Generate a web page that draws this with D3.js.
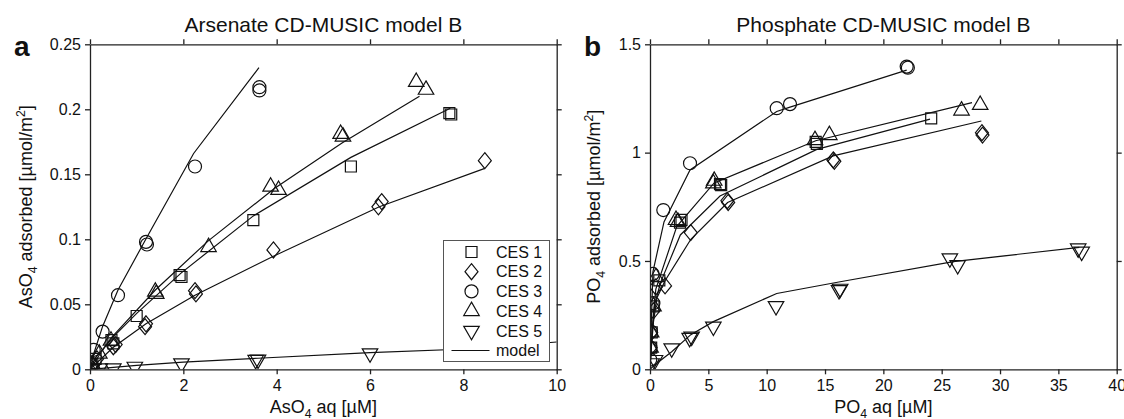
<!DOCTYPE html>
<html lang="en">
<head>
<meta charset="utf-8">
<title>CD-MUSIC model B</title>
<script src="https://d3js.org/d3.v7.min.js"></script>
<style>
body { margin: 0; background: #fff; }
svg { font-family: "Liberation Sans", Arial, sans-serif; }
.axis path, .axis line { stroke: #222; stroke-width: 1.3; }
.axis text { font-size: 16px; fill: #111; font-family: "Liberation Sans", Arial, sans-serif; }
.marker { fill: none; stroke: #111; stroke-width: 1.2; }
.model { fill: none; stroke: #111; stroke-width: 1.2; }
</style>
</head>
<body>
<script>
// ---- panel a : arsenate ----
var asTicksX = [0, 2, 4, 6, 8, 10];
var asTickLabelsX = ["0", "2", "4", "6", "8", "10"];
var asTicksY = [0, 0.05, 0.1, 0.15, 0.2, 0.25];
var asTickLabelsY = ["0", "0.05", "0.1", "0.15", "0.2", "0.25"];

var asCes1X = [0.05, 0.12, 0.46, 0.5, 1.0, 1.92, 1.96, 3.5, 5.59, 7.70, 7.74];
var asCes1Y = [0.004, 0.008, 0.0225, 0.02, 0.041, 0.0725, 0.071, 0.1148, 0.156, 0.197, 0.196];
var asCes1MX = [0, 0.05, 0.12, 0.5, 1.0, 1.95, 3.5, 5.59, 7.72];
var asCes1MY = [0, 0.0045, 0.009, 0.025, 0.043, 0.074, 0.118, 0.163, 0.2008];

var asCes2X = [0.05, 0.15, 0.5, 0.55, 1.18, 1.2, 2.25, 2.27, 3.93, 6.18, 6.25, 8.46];
var asCes2Y = [0.003, 0.008, 0.0174, 0.019, 0.0328, 0.035, 0.0605, 0.058, 0.0918, 0.125, 0.129, 0.1605];
var asCes2MX = [0, 0.5, 1.2, 2.25, 3.93, 6.2, 8.46];
var asCes2MY = [0, 0.017, 0.035, 0.057, 0.087, 0.125, 0.1546];

var asCes3X = [0.02, 0.08, 0.27, 0.6, 1.2, 1.22, 2.25, 3.63, 3.63];
var asCes3Y = [0.004, 0.015, 0.029, 0.057, 0.098, 0.096, 0.156, 0.217, 0.2145];
var asCes3MX = [0, 0.08, 0.27, 0.6, 1.21, 2.22, 3.62];
var asCes3MY = [0, 0.012, 0.033, 0.061, 0.101, 0.166, 0.232];

var asCes4X = [0.05, 0.2, 0.45, 1.4, 1.42, 2.54, 3.87, 4.04, 5.37, 5.42, 6.99, 7.2];
var asCes4Y = [0.004, 0.012, 0.022, 0.0597, 0.058, 0.094, 0.1405, 0.138, 0.181, 0.179, 0.221, 0.215];
var asCes4MX = [0, 0.2, 0.45, 1.4, 2.54, 3.95, 5.4, 7.06];
var asCes4MY = [0, 0.011, 0.024, 0.061, 0.099, 0.139, 0.174, 0.210];

var asCes5X = [0.05, 0.21, 0.5, 0.96, 1.96, 3.55, 3.6, 6.0];
var asCes5Y = [0.0005, 0.0008, 0.0008, 0.002, 0.0046, 0.0072, 0.0075, 0.0123];
var asCes5MX = [0, 0.5, 1.0, 2.0, 3.6, 6.0, 8.2, 10];
var asCes5MY = [0, 0.0015, 0.003, 0.0055, 0.0085, 0.0128, 0.0158, 0.021];

// ---- panel b : phosphate ----
var poTicksX = [0, 5, 10, 15, 20, 25, 30, 35, 40];
var poTickLabelsX = ["0", "5", "10", "15", "20", "25", "30", "35", "40"];
var poTicksY = [0, 0.5, 1, 1.5];
var poTickLabelsY = ["0", "0.5", "1", "1.5"];

var poCes1X = [0.1, 0.15, 0.3, 0.8, 2.57, 2.7, 6.0, 6.1, 14.2, 14.3, 24.1];
var poCes1Y = [0.1, 0.17, 0.29, 0.41, 0.677, 0.69, 0.855, 0.85, 1.05, 1.04, 1.158];
var poCes1MX = [0, 0.1, 0.2, 0.4, 0.9, 2.6, 6.0, 14.3, 24.0];
var poCes1MY = [0, 0.1, 0.18, 0.3, 0.4, 0.62, 0.80, 1.015, 1.155];

var poCes2X = [0.05, 0.1, 0.3, 0.5, 1.29, 3.49, 6.63, 6.7, 15.71, 15.8, 28.45, 28.5];
var poCes2Y = [0.1, 0.17, 0.27, 0.38, 0.385, 0.631, 0.778, 0.77, 0.966, 0.96, 1.092, 1.081];
var poCes2MX = [0, 0.1, 0.3, 0.6, 1.3, 3.5, 6.65, 15.7, 28.4];
var poCes2MY = [0, 0.09, 0.22, 0.33, 0.41, 0.6, 0.77, 0.985, 1.146];

var poCes3X = [0.02, 0.04, 0.08, 0.29, 0.23, 1.14, 3.43, 10.86, 12.0, 22.0, 22.1];
var poCes3Y = [0.045, 0.1, 0.174, 0.305, 0.44, 0.735, 0.951, 1.205, 1.224, 1.397, 1.392];
var poCes3MX = [0, 0.02, 0.05, 0.1, 0.25, 1.2, 3.43, 10.86, 12.0, 22.0];
var poCes3MY = [0, 0.05, 0.11, 0.19, 0.45, 0.68, 0.92, 1.19, 1.21, 1.381];

var poCes4X = [0.05, 0.1, 0.3, 0.51, 2.23, 2.4, 5.43, 5.5, 14.14, 15.37, 26.7, 28.3];
var poCes4Y = [0.1, 0.17, 0.29, 0.425, 0.689, 0.68, 0.858, 0.87, 1.058, 1.081, 1.194, 1.22];
var poCes4MX = [0, 0.1, 0.3, 0.5, 2.3, 5.5, 14.2, 27.6];
var poCes4MY = [0, 0.11, 0.26, 0.37, 0.66, 0.86, 1.055, 1.231];

var poCes5X = [0.14, 0.43, 1.86, 3.4, 3.57, 5.43, 10.8, 16.2, 16.3, 25.7, 26.37, 36.7, 37.0];
var poCes5Y = [0.028, 0.043, 0.097, 0.145, 0.151, 0.197, 0.292, 0.366, 0.372, 0.512, 0.481, 0.558, 0.543];
var poCes5MX = [0, 0.4, 1.86, 3.5, 5.43, 10.86, 16.3, 26.0, 36.8];
var poCes5MY = [0, 0.02, 0.081, 0.16, 0.22, 0.35, 0.404, 0.497, 0.563];

var legendNames = ["CES 1", "CES 2", "CES 3", "CES 4", "CES 5"];
var shapes = ["square", "diamond", "circle", "up", "down"];

// ---- layout ----
var W = 1124, H = 419;
var plotTop = 44.3, plotBottom = 369.3;

var svg = d3.select("body").append("svg")
    .attr("width", W)
    .attr("height", H);

function shapePath(shape) {
  if (shape == "square") return "M-5.5,-5.5H5.5V5.5H-5.5Z";
  if (shape == "diamond") return "M0,-8L6.5,0L0,8L-6.5,0Z";
  if (shape == "circle") return d3.symbol(d3.symbolCircle, 133)();
  return d3.symbol(d3.symbolTriangle, 104)();
}

function zip(xs, ys) {
  return xs.map(function(d, i) { return [d, ys[i]]; });
}

// text with sub/superscripts: parts = [[text, "n"|"sub"|"sup"], ...]
function richText(sel, parts, size) {
  var shift = 0;
  parts.forEach(function(p) {
    var target = p[1] == "sub" ? size * 0.3 : (p[1] == "sup" ? -size * 0.38 : 0);
    sel.append("tspan")
      .attr("dy", target - shift)
      .attr("font-size", p[1] == "n" ? size : size * 0.68)
      .text(p[0]);
    shift = target;
  });
}

function drawPanel(opt) {
  var x = d3.scaleLinear().domain(opt.xDomain).range([opt.left, opt.right]);
  var y = d3.scaleLinear().domain(opt.yDomain).range([plotBottom, plotTop]);

  var clipId = "clip-" + opt.id;
  svg.append("clipPath").attr("id", clipId)
    .append("rect")
    .attr("x", opt.left).attr("y", plotTop)
    .attr("width", opt.right - opt.left).attr("height", plotBottom - plotTop);

  var g = svg.append("g").attr("clip-path", "url(#" + clipId + ")");
  var line = d3.line().x(function(d) { return x(d[0]); }).y(function(d) { return y(d[1]); });

  opt.series.forEach(function(s) {
    g.append("path").attr("class", "model").attr("d", line(zip(s.mx, s.my)));
  });

  opt.series.forEach(function(s) {
    g.selectAll(null)
      .data(zip(s.x, s.y))
      .enter().append("path")
      .attr("class", "marker")
      .attr("d", shapePath(s.shape))
      .attr("transform", function(d) {
        return "translate(" + x(d[0]) + "," + y(d[1]) + ")" + (s.shape == "down" ? " rotate(180)" : "");
      });
  });

  // axes (frame)
  svg.append("g").attr("class", "axis")
    .attr("transform", "translate(0," + plotBottom + ")")
    .call(d3.axisBottom(x).tickValues(opt.xTicks)
      .tickFormat(function(d, i) { return opt.xTickLabels[i]; })
      .tickSize(5).tickSizeOuter(0).tickPadding(5));
  svg.append("g").attr("class", "axis")
    .attr("transform", "translate(0," + plotTop + ")")
    .call(d3.axisTop(x).tickValues(opt.xTicks).tickFormat("").tickSize(5).tickSizeOuter(0));
  svg.append("g").attr("class", "axis")
    .attr("transform", "translate(" + opt.left + ",0)")
    .call(d3.axisLeft(y).tickValues(opt.yTicks)
      .tickFormat(function(d, i) { return opt.yTickLabels[i]; })
      .tickSize(5).tickSizeOuter(0).tickPadding(4));
  svg.append("g").attr("class", "axis")
    .attr("transform", "translate(" + opt.right + ",0)")
    .call(d3.axisRight(y).tickValues(opt.yTicks).tickFormat("").tickSize(5).tickSizeOuter(0));

  var cx = (opt.left + opt.right) / 2;
  svg.append("text")
    .attr("x", cx).attr("y", 32)
    .attr("text-anchor", "middle")
    .attr("font-size", "21px").attr("fill", "#111")
    .text(opt.title);

  svg.append("text")
    .attr("x", opt.letterX).attr("y", 56)
    .attr("font-size", "28px").attr("font-weight", "bold").attr("fill", "#111")
    .text(opt.letter);

  var xl = svg.append("text")
    .attr("x", cx).attr("y", 413)
    .attr("text-anchor", "middle").attr("fill", "#111");
  richText(xl, [[opt.species, "n"], ["4", "sub"], [" aq [µM]", "n"]], 18);

  var yl = svg.append("text")
    .attr("transform", "translate(" + opt.yLabelX + "," + ((plotTop + plotBottom) / 2) + ") rotate(-90)")
    .attr("text-anchor", "middle").attr("fill", "#111");
  richText(yl, [[opt.species, "n"], ["4", "sub"], [" adsorbed [µmol/m", "n"], ["2", "sup"], ["]", "n"]], 18);

  return { x: x, y: y };
}

function series(xs, ys, mxs, mys) {
  return xs.map(function(d, i) {
    return { shape: shapes[i], x: xs[i], y: ys[i], mx: mxs[i], my: mys[i] };
  });
}

drawPanel({
  id: "a", left: 90, right: 556.7,
  xDomain: [0, 10], yDomain: [0, 0.25],
  xTicks: asTicksX, xTickLabels: asTickLabelsX,
  yTicks: asTicksY, yTickLabels: asTickLabelsY,
  title: "Arsenate CD-MUSIC model B", letter: "a", letterX: 14,
  species: "AsO", yLabelX: 32,
  series: series(
    [asCes1X, asCes2X, asCes3X, asCes4X, asCes5X],
    [asCes1Y, asCes2Y, asCes3Y, asCes4Y, asCes5Y],
    [asCes1MX, asCes2MX, asCes3MX, asCes4MX, asCes5MX],
    [asCes1MY, asCes2MY, asCes3MY, asCes4MY, asCes5MY])
});

drawPanel({
  id: "b", left: 650, right: 1116.7,
  xDomain: [0, 40], yDomain: [0, 1.5],
  xTicks: poTicksX, xTickLabels: poTickLabelsX,
  yTicks: poTicksY, yTickLabels: poTickLabelsY,
  title: "Phosphate CD-MUSIC model B", letter: "b", letterX: 584,
  species: "PO", yLabelX: 600,
  series: series(
    [poCes1X, poCes2X, poCes3X, poCes4X, poCes5X],
    [poCes1Y, poCes2Y, poCes3Y, poCes4Y, poCes5Y],
    [poCes1MX, poCes2MX, poCes3MX, poCes4MX, poCes5MX],
    [poCes1MY, poCes2MY, poCes3MY, poCes4MY, poCes5MY])
});

// legend (panel a)
var leg = svg.append("g").attr("transform", "translate(443.5,240.5)");
leg.append("rect")
  .attr("width", 106).attr("height", 121)
  .attr("fill", "#fff").attr("stroke", "#555").attr("stroke-width", 1);

legendNames.forEach(function(name, i) {
  var ry = 11.5 + 19.7 * i;
  leg.append("path").attr("class", "marker")
    .attr("d", shapePath(shapes[i]))
    .attr("transform", "translate(28," + ry + ")" + (shapes[i] == "down" ? " rotate(180)" : ""));
  leg.append("text")
    .attr("x", 52.5).attr("y", ry).attr("dy", "0.36em")
    .attr("font-size", "16px").attr("fill", "#111")
    .text(name);
});
var my = 11.5 + 19.7 * 5;
leg.append("line").attr("class", "model")
  .attr("x1", 8).attr("x2", 46).attr("y1", my).attr("y2", my);
leg.append("text")
  .attr("x", 52.5).attr("y", my).attr("dy", "0.36em")
  .attr("font-size", "16px").attr("fill", "#111")
  .text("model");
</script>
</body>
</html>
